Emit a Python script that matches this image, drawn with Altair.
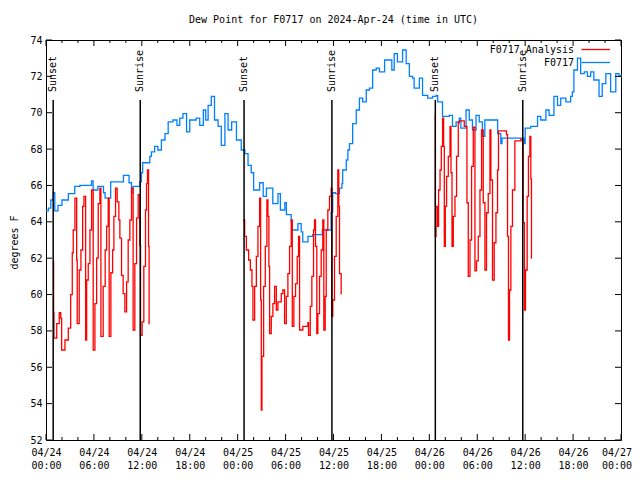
import altair as alt
import pandas as pd

FONT = "DejaVu Sans Mono"
BLUE = "#0080ff"
RED = "#ff0000"

# hours since 2024-04-24 00:00 UTC, dew point (F)
blue_obs = [
    (0, 64.6), (0.3, 64.75), (0.6, 65.2), (0.9, 65.6), (1.1, 64.6), (1.5, 64.9), (2.0, 65.2),
    (2.8, 65.55), (3.6, 65.95), (4.25, 66.0), (5.7, 66.25), (5.9, 65.75), (6.5, 65.95),
    (7.2, 65.6), (7.4, 65.3), (8.1, 66.2), (9.7, 66.55), (10.4, 66.15), (10.7, 65.6),
    (10.9, 65.95), (11.75, 66.2), (11.95, 66.7), (12.1, 67.25), (13.0, 67.6), (13.2, 67.85),
    (13.6, 68.15), (14.0, 67.95), (14.45, 68.5), (14.9, 68.85), (15.3, 69.5), (15.9, 69.6),
    (16.4, 69.3), (16.75, 69.7), (17.15, 69.95), (17.6, 68.95), (18.0, 69.6), (18.8, 69.7),
    (19.25, 69.3), (19.7, 70.15), (20.0, 69.6), (20.3, 70.4), (20.7, 70.9), (21.1, 69.6),
    (21.55, 69.25), (21.95, 68.2), (22.4, 69.95), (22.8, 69.05), (23.25, 69.5), (23.85, 68.5),
    (24.45, 67.95), (24.9, 67.75), (25.3, 67.1), (25.7, 66.7), (26.0, 65.75), (26.75, 66.15),
    (27.2, 65.4), (27.6, 65.85), (28.4, 65.0), (29.05, 65.55), (29.35, 64.65), (29.9, 65.05),
    (30.1, 64.4), (30.7, 64.0), (30.8, 63.55), (31.55, 63.9), (31.95, 63.45), (32.15, 62.9),
    (32.8, 63.2), (33.4, 63.3), (34.6, 63.55), (35.7, 64.55), (35.9, 65.6), (36.25, 65.55),
    (36.75, 65.85), (37.05, 66.1), (37.15, 66.85), (37.6, 67.4), (37.8, 67.95), (38.0, 68.3),
    (38.4, 69.4), (38.85, 70.15), (39.25, 70.8), (39.65, 70.6), (40.1, 71.25), (40.5, 71.35),
    (40.9, 72.35), (41.35, 72.45), (41.75, 72.25), (42.4, 72.9), (43.3, 72.35), (43.6, 73.25),
    (44.0, 72.8), (44.65, 73.45), (45.1, 72.7), (45.5, 72.0), (45.9, 71.9), (46.1, 71.35),
    (46.75, 71.9), (47.15, 70.95), (47.8, 70.8), (48.4, 70.9), (48.85, 70.95), (49.05, 70.6),
    (49.65, 69.8), (50.5, 69.85), (50.9, 69.25), (51.35, 69.5), (51.75, 69.7), (51.95, 69.15),
    (52.6, 70.15), (53.0, 69.6), (53.4, 69.05), (53.85, 69.85), (54.25, 69.5), (54.65, 68.7),
    (54.95, 69.6), (56.55, 68.85), (56.95, 68.3), (57.1, 68.6), (59.9, 68.3), (60.0, 69.15),
    (60.7, 69.25), (61.55, 69.8), (61.95, 69.6), (62.6, 70.15), (63.0, 69.85), (63.6, 70.9),
    (64.05, 70.4), (64.45, 70.8), (65.1, 70.6), (65.7, 70.9), (65.9, 71.15), (66.1, 72.35),
    (66.55, 73.0), (66.95, 72.15), (67.4, 72.25), (67.8, 72.0), (68.2, 72.25), (68.6, 71.8),
    (69.25, 70.9), (69.65, 71.6), (70.1, 72.15), (70.7, 71.15), (71.35, 72.15), (71.75, 72.0),
    (72.0, 72.1),
]

red_night1 = [
    (0.85, 61.8), (0.95, 59.0), (1.0, 57.6), (1.34, 58.4), (1.66, 59.0), (1.84, 58.7),
    (1.96, 56.95), (2.375, 57.5), (2.79, 58.15), (3.09, 60.0), (3.29, 62.3), (3.41, 63.55),
    (3.625, 65.3), (3.84, 61.9), (3.91, 58.4), (4.16, 61.35), (4.375, 62.45), (4.59, 64.85),
    (4.75, 65.4), (4.96, 57.5), (5.09, 60.8), (5.29, 61.7), (5.5, 63.55), (5.71, 65.75),
    (5.91, 56.95), (6.125, 59.5), (6.34, 62.0), (6.54, 65.0), (6.75, 65.85), (6.875, 57.7),
    (7.16, 60.45), (7.41, 62.45), (7.59, 63.75), (7.79, 65.3), (7.91, 57.7), (8.125, 61.2),
    (8.34, 62.45), (8.5, 64.3), (8.71, 65.85), (8.91, 65.1), (9.125, 64.1), (9.25, 63.1),
    (9.46, 61.05), (9.66, 60.05), (9.875, 59.05), (10.09, 60.7), (10.29, 63.0), (10.5, 64.1),
    (10.71, 65.85), (10.91, 58.05), (11.125, 61.7), (11.34, 64.2), (11.54, 65.5),
    (11.75, 62.7), (11.84, 57.75), (12.04, 58.5), (12.25, 61.55), (12.46, 64.65),
    (12.59, 66.1), (12.71, 66.85), (12.84, 62.65), (12.91, 58.4), (13.0, 58.4),
]

red_night2 = [
    (24.7, 64.1), (24.875, 63.2), (25.09, 62.45), (25.375, 61.9), (25.59, 61.35),
    (25.79, 60.45), (25.91, 58.6), (26.125, 60.45), (26.34, 62.1), (26.54, 63.75),
    (26.75, 65.3), (26.875, 59.7), (26.96, 53.65), (27.04, 56.6), (27.25, 60.45),
    (27.46, 62.65), (27.66, 65.2), (27.79, 64.3), (27.91, 61.55), (28.0, 57.85),
    (28.21, 58.8), (28.41, 59.5), (28.625, 60.45), (28.84, 59.15), (29.04, 59.6),
    (29.46, 60.05), (29.66, 60.25), (29.875, 58.4), (30.09, 59.9), (30.29, 61.15),
    (30.5, 62.65), (30.71, 64.1), (30.84, 58.25), (31.04, 59.9), (31.25, 60.6),
    (31.46, 62.1), (31.625, 63.2), (31.75, 58.05), (32.16, 58.25), (32.79, 58.45),
    (32.875, 57.75), (33.09, 59.35), (33.29, 61.0), (33.5, 63.55), (33.625, 64.1),
    (33.75, 62.65), (33.91, 57.85), (34.04, 58.95), (34.25, 61.0), (34.46, 62.45),
    (34.66, 64.1), (34.79, 58.05), (34.96, 59.9), (35.09, 63.55), (35.29, 64.65),
    (35.5, 65.4), (35.71, 65.85), (35.79, 58.8), (35.91, 59.7), (36.125, 62.1),
    (36.34, 64.3), (36.54, 66.85), (36.66, 64.85), (36.75, 61.15), (36.96, 60.05),
    (37.05, 60.05),
]

red_night3 = [
    (48.71, 69.9), (48.75, 63.2), (48.84, 64.85), (49.04, 63.75), (49.16, 65.75),
    (49.34, 66.85), (49.5, 68.15), (49.66, 69.7), (49.79, 68.15), (49.875, 62.65),
    (50.0, 64.85), (50.16, 66.5), (50.375, 67.6), (50.59, 69.25), (50.71, 66.7),
    (50.84, 62.65), (51.0, 64.3), (51.21, 65.4), (51.41, 67.6), (51.625, 69.45),
    (51.75, 69.55), (52.375, 69.25), (52.71, 65.05), (52.875, 61.0), (53.09, 63.0),
    (53.29, 67.05), (53.5, 69.2), (53.71, 61.3), (53.91, 61.85), (54.125, 63.2),
    (54.34, 65.75), (54.54, 69.05), (54.75, 65.05), (54.96, 61.35), (55.16, 64.5),
    (55.375, 65.55), (55.59, 69.05), (55.71, 66.3), (55.91, 60.8), (56.125, 62.85),
    (56.34, 64.5), (56.54, 66.85), (56.66, 69.0), (57.66, 68.8), (57.79, 63.2),
    (57.91, 57.5), (58.04, 60.25), (58.21, 63.75), (58.41, 65.75), (58.71, 68.45),
    (59.46, 68.55), (59.66, 68.5), (59.75, 63.95), (59.91, 59.15), (60.04, 61.35),
    (60.25, 65.4), (60.41, 67.6), (60.59, 68.7), (60.71, 66.35), (60.79, 62.0),
    (60.85, 62.0),
]

sun_hours = [0.9, 11.8, 24.8, 35.8, 48.75, 59.7]
sun_labels = ["Sunset", "Sunrise", "Sunset", "Sunrise", "Sunset", "Sunrise"]

x_major = list(range(0, 73, 6))
x_minor = [h for h in range(0, 73, 2) if h % 6 != 0]
y_major = list(range(52, 75, 2))

W, H = 575, 400

blue_df = pd.DataFrame(blue_obs, columns=["h", "v"])
red_df = pd.concat(
    [pd.DataFrame(s, columns=["h", "v"]).assign(seg=i) for i, s in enumerate([red_night1, red_night2, red_night3])],
    ignore_index=True,
)
sun_df = pd.DataFrame({"h": sun_hours, "label": sun_labels})
xmaj_df = pd.DataFrame({"h": x_major})
xmin_df = pd.DataFrame({"h": x_minor})
ymaj_df = pd.DataFrame({"v": y_major})

label_expr = (
    "['04/' + (24 + floor(datum.value / 24)), "
    "(datum.value % 24 < 10 ? '0' : '') + (datum.value % 24) + ':00']"
)

X = alt.X(
    "h:Q",
    scale=alt.Scale(domain=[0, 72], nice=False, zero=False),
    axis=alt.Axis(
        values=x_major, labelExpr=label_expr, ticks=False, domain=False, grid=False,
        labelFont=FONT, labelFontSize=10, labelColor="black", labelPadding=7,
        labelLineHeight=13, labelFlush=False, labelOverlap=False, title=None,
        labelOffset={"condition": {"test": "datum.value >= 72", "value": -4.5}, "value": 0},
    ),
)
Y = alt.Y(
    "v:Q",
    scale=alt.Scale(domain=[52, 74], nice=False, zero=False),
    axis=alt.Axis(
        values=y_major, ticks=False, domain=False, grid=False,
        labelFont=FONT, labelFontSize=10, labelColor="black", labelPadding=4,
        labelFlush=False, labelOverlap=False,
        title="degrees F", titleFont=FONT, titleFontSize=10, titleFontWeight="normal",
        titleColor="black", titleAngle=270, titleX=-32, titleY=202,
        titleAlign="center", titleBaseline="middle",
    ),
)

blue_line = alt.Chart(blue_df).mark_line(
    color=BLUE, strokeWidth=1.3, interpolate="step-after"
).encode(x=X, y=Y)

red_line = alt.Chart(red_df).mark_line(
    color=RED, strokeWidth=1.3, interpolate="step-after"
).encode(x=X, y=Y, detail="seg:N")

sun_rules = alt.Chart(sun_df).mark_rule(color="black", strokeWidth=1.5).encode(
    x=X, y=alt.value(60), y2=alt.value(H)
)
sun_text = alt.Chart(sun_df).mark_text(
    angle=270, align="left", baseline="middle", font=FONT, fontSize=10, color="black"
).encode(x=X, y=alt.value(52), text="label:N")

def xticks(df, length):
    bottom = alt.Chart(df).mark_rule(color="black", strokeWidth=1).encode(
        x=X, y=alt.value(H), y2=alt.value(H - length))
    top = alt.Chart(df).mark_rule(color="black", strokeWidth=1).encode(
        x=X, y=alt.value(0), y2=alt.value(length))
    return [bottom, top]

yt_left = alt.Chart(ymaj_df).mark_rule(color="black", strokeWidth=1).encode(
    y=Y, x=alt.value(0), x2=alt.value(6))
yt_right = alt.Chart(ymaj_df).mark_rule(color="black", strokeWidth=1).encode(
    y=Y, x=alt.value(W), x2=alt.value(W - 6))

legend_df = pd.DataFrame({"name": ["F0717 Analysis"]})
legend_df2 = pd.DataFrame({"name": ["F0717"]})
leg_text1 = alt.Chart(legend_df).mark_text(
    align="right", baseline="middle", font=FONT, fontSize=10, color="black"
).encode(x=alt.value(528), y=alt.value(9.5), text="name:N")
leg_text2 = alt.Chart(legend_df2).mark_text(
    align="right", baseline="middle", font=FONT, fontSize=10, color="black"
).encode(x=alt.value(528), y=alt.value(22.5), text="name:N")
leg_line1 = alt.Chart(legend_df).mark_rule(color=RED, strokeWidth=1.3).encode(
    x=alt.value(535.5), x2=alt.value(564), y=alt.value(9.5))
leg_line2 = alt.Chart(legend_df2).mark_rule(color=BLUE, strokeWidth=1.3).encode(
    x=alt.value(535.5), x2=alt.value(564), y=alt.value(22.5))

layers = [blue_line, red_line, sun_rules, sun_text] + xticks(xmaj_df, 6) + xticks(xmin_df, 3) + [
    yt_left, yt_right, leg_text1, leg_line1, leg_text2, leg_line2]

chart = alt.layer(*layers).properties(
    width=W, height=H,
    autosize=alt.AutoSizeParams(type="none"),
    padding={"left": 38, "top": 32, "right": 11, "bottom": 30},
    background="white",
    title=alt.TitleParams(
        "Dew Point for F0717 on 2024-Apr-24 (time in UTC)",
        font=FONT, fontSize=10, fontWeight="normal", color="black",
        anchor="middle", offset=10, frame="group",
    ),
).configure_view(stroke="black", strokeWidth=1)

chart.save("out.html", embed_options={"renderer": "svg", "actions": False})
